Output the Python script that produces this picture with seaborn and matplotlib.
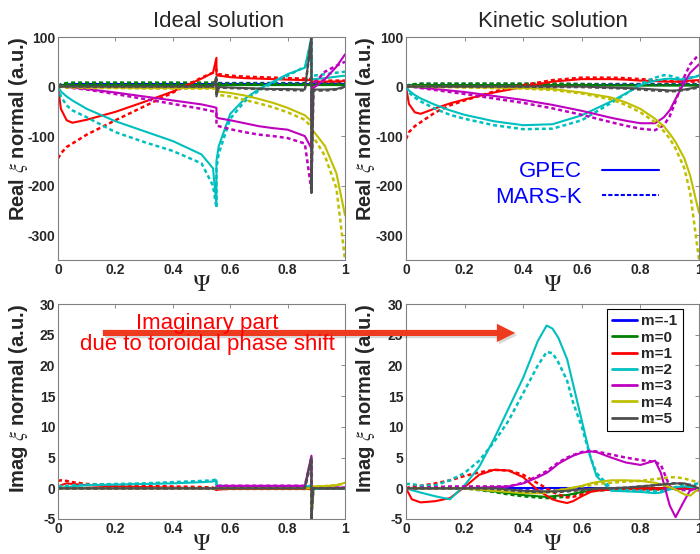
import seaborn as sns
import matplotlib.pyplot as plt
from matplotlib.lines import Line2D
from matplotlib.patches import FancyArrowPatch
from matplotlib.ticker import FormatStrFormatter

MODES = ["m=-1", "m=0", "m=1", "m=2", "m=3", "m=4", "m=5"]
COLORS = ["#0000FF", "#008000", "#FF0000", "#00BFBF", "#BF00BF", "#BFBF00", "#4D4D4D"]

# ---- Real part, ideal solution (jumps at the rational surfaces 0.552 / 0.883)
PSI_REAL_IDEAL = [0, .01, .03, .05, .1, .2, .3, .4, .5, .54, .552, .552, .56,
                  .6, .65, .7, .75, .8, .86, .883, .883, .89, .93, .97, 1.0]
REAL_IDEAL_GPEC = {
    "m=-1": [0, 3, 4, 5, 5, 5, 5, 5, 5, 5, 5, 5, 5, 5, 5, 5, 5, 5, 5, 5, 5, 5, 5, 5, 5],
    "m=0": [0, 2, 3, 3, 3, 3, 3, 3, 3, 3, 3, 3, 3, 3, 3, 3, 3, 3, 3, 3, 3, 3, 3, 3, 3],
    "m=1": [0, -45, -68, -73, -67, -51, -31, -10, 16, 28, 58, 24, 22, 19, 17, 16, 15, 14, 13, 13, 10, 10, 10, 10, 11],
    "m=2": [0, -10, -20, -28, -45, -70, -90, -110, -137, -165, -240, -150, -120, -55, -25, -5, 10, 25, 38, 100, 15, 15, 17, 20, 22],
    "m=3": [0, 0, -1, -2, -5, -12, -20, -28, -36, -41, -43, -62, -64, -68, -74, -80, -84, -87, -100, -125, -8, -3, 15, 40, 65],
    "m=4": [0, 0, -1, -1, -2, -2, -3, -3, -3, -3, -3, -8, -10, -13, -18, -25, -33, -43, -58, -70, -88, -90, -120, -175, -260],
    "m=5": [0, 0, 0, 0, 0, 0, 0, 0, 0, 0, 20, -20, -1, -2, -3, -4, -5, -5, -6, 100, -215, -6, -6, -5, 0],
}
REAL_IDEAL_MARS = {
    "m=-1": [0, 4, 5, 6, 6, 6, 6, 6, 6, 6, 6, 6, 7, 7, 7, 7, 7, 7, 7, 7, 7, 7, 7, 7, 7],
    "m=0": [0, 5, 7, 8, 8, 8, 8, 8, 8, 8, 8, 8, 6, 6, 6, 6, 6, 6, 6, 6, 6, 6, 6, 6, 6],
    "m=1": [-145, -135, -122, -115, -97, -68, -40, -12, 18, 28, 35, 28, 25, 22, 20, 19, 18, 17, 16, 15, 12, 12, 12, 12, 12],
    "m=2": [0, -20, -38, -48, -62, -92, -112, -130, -155, -200, -245, -165, -135, -65, -30, -8, 8, 22, 40, 60, 20, 22, 25, 28, 30],
    "m=3": [0, 0, -1, -3, -6, -15, -25, -35, -45, -50, -52, -78, -80, -86, -92, -97, -100, -104, -115, -210, -5, 5, 30, 42, 50],
    "m=4": [0, -1, -2, -2, -3, -3, -4, -4, -4, -4, -4, -15, -17, -20, -27, -34, -42, -52, -67, -82, -98, -102, -140, -205, -350],
    "m=5": [0, 0, 0, 0, 0, 0, 0, 0, 0, 0, 15, -15, -2, -3, -4, -5, -6, -7, -8, 100, -200, -8, -8, -6, -1],
}

# ---- Imaginary part, ideal solution (same grid)
IMAG_IDEAL_GPEC = {
    "m=-1": [0] * 25,
    "m=0": [0] * 25,
    "m=1": [0, .5, .8, .7, .5, .3, .2, .1, 0, 0, -.3, -.2, -.2, -.1, -.1, -.1, -.1, -.1, -.1, -.1, 0, 0, 0, 0, 0],
    "m=2": [0, .1, .2, .3, .5, .6, .7, .8, 1.0, 1.1, 1.3, .3, .3, .3, .3, .3, .3, .3, .2, .5, -.3, -.1, 0, 0, 0],
    "m=3": [0, 0, 0, 0, 0, 0, 0, 0, 0, 0, 0, .3, .4, .4, .4, .4, .4, .4, .4, 5.3, -.5, .1, .1, .1, .1],
    "m=4": [0, 0, 0, 0, 0, 0, 0, 0, 0, 0, 0, 0, 0, 0, 0, 0, 0, 0, 0, 0, -4.5, .3, .35, .5, .9],
    "m=5": [0, 0, 0, 0, 0, 0, 0, 0, 0, 0, 0, 0, 0, 0, 0, 0, 0, 0, 0, 5, -5, 0, 0, 0, 0],
}
IMAG_IDEAL_MARS = {
    "m=-1": [0] * 25,
    "m=0": [0] * 25,
    "m=1": [1.2, 1.3, 1.2, 1.0, .7, .5, .4, .3, .2, .1, -.2, -.1, -.1, -.1, -.1, -.1, -.1, -.1, -.1, -.1, 0, 0, 0, 0, 0],
    "m=2": [.3, .4, .4, .5, .6, .7, .8, 1.0, 1.2, 1.3, 1.5, .4, .4, .3, .3, .3, .3, .3, .2, .4, -.2, -.1, 0, 0, 0],
    "m=3": [0, 0, 0, 0, 0, 0, 0, 0, 0, 0, 0, .3, .4, .4, .4, .4, .4, .4, .4, 5.0, -.4, .1, .1, .1, .1],
    "m=4": [0, 0, 0, 0, 0, 0, 0, 0, 0, 0, 0, 0, 0, 0, 0, 0, 0, 0, 0, 0, -4.0, .3, .35, .5, .8],
    "m=5": [0, 0, 0, 0, 0, 0, 0, 0, 0, 0, 0, 0, 0, 0, 0, 0, 0, 0, 0, 4.5, -4.5, 0, 0, 0, 0],
}

# ---- Real part, kinetic solution
PSI_REAL_KIN = [0, .01, .03, .05, .1, .15, .2, .3, .4, .5, .6, .7, .75, .8, .85, .88, .9, .92, .95, .97, 1.0]
REAL_KIN_GPEC = {
    "m=-1": [0, 2, 3, 3, 3, 3, 3, 3, 3, 3, 3, 3, 3, 3, 3, 3, 3, 3, 3, 3, 3],
    "m=0": [0, 2, 3, 3, 3, 3, 3, 3, 3, 3, 3, 2, 2, 2, 2, 2, 2, 2, 2, 2, 2],
    "m=1": [0, -35, -52, -55, -44, -34, -26, -12, -1, 10, 15, 15, 14, 12, 11, 10, 10, 10, 11, 12, 13],
    "m=2": [0, -8, -17, -24, -37, -48, -57, -70, -78, -76, -58, -30, -14, 3, 12, 15, 16, 15, 14, 17, 22],
    "m=3": [0, 0, -1, -2, -5, -8, -11, -19, -27, -37, -49, -63, -69, -74, -74, -62, -48, -25, 8, 28, 45],
    "m=4": [0, 0, 0, 0, -1, -1, -1, -2, -3, -5, -12, -22, -32, -45, -65, -80, -95, -112, -145, -180, -255],
    "m=5": [0, 0, 0, 0, 0, 0, 0, 0, 0, 0, 0, -2, -3, -4, -6, -7, -8, -8, -6, -4, 0],
}
REAL_KIN_MARS = {
    "m=-1": [0, 3, 4, 5, 5, 5, 5, 5, 5, 5, 5, 5, 5, 5, 5, 5, 5, 5, 5, 5, 5],
    "m=0": [0, 3, 5, 6, 6, 6, 6, 6, 6, 6, 5, 4, 4, 4, 4, 4, 4, 4, 4, 4, 4],
    "m=1": [-106, -92, -80, -72, -52, -38, -28, -10, 3, 13, 18, 18, 17, 15, 13, 12, 11, 10, 10, 10, 10],
    "m=2": [0, -12, -22, -30, -45, -57, -65, -78, -86, -85, -68, -33, -15, 5, 18, 23, 22, 18, 16, 18, 22],
    "m=3": [0, 0, -1, -3, -7, -11, -15, -24, -33, -44, -57, -72, -79, -85, -88, -78, -60, -30, 20, 45, 65],
    "m=4": [0, 0, 0, 0, -1, -1, -2, -3, -4, -7, -14, -26, -37, -52, -72, -90, -105, -125, -165, -215, -350],
    "m=5": [0, 0, 0, 0, 0, 0, 0, 0, 0, -1, -1, -3, -4, -6, -8, -9, -10, -9, -7, -5, -2],
}

# ---- Imaginary part, kinetic solution
PSI_IMAG_KIN = [0, .02, .05, .1, .15, .2, .25, .3, .35, .4, .45, .48, .5, .52, .55, .57, .6, .63, .65,
                .7, .75, .8, .85, .87, .9, .92, .95, .97, 1.0]
IMAG_KIN_GPEC = {
    "m=-1": [0] * 29,
    "m=0": [0, 0, 0, 0, 0, 0, -.2, -.5, -.8, -1.1, -1.3, -1.4, -1.3, -1.2, -1.1, -.9, -.6, -.4, -.3, -.1, 0, 0, 0, 0, 0, 0, 0, 0, 0],
    "m=1": [0, -1.8, -2.3, -2.1, -1.6, .2, 2.2, 3.0, 2.9, 1.8, -.3, -1.2, -1.8, -2.1, -2.4, -2.1, -1.3, -.6, -.4, -.2, -.1, 0, 0, 0, 0, 0, 0, 0, 0],
    "m=2": [0, -.3, -.7, -1.3, -1.8, .5, 3.5, 8, 13, 18, 24, 26.5, 26, 24.5, 21, 17, 11, 5, 2, -.4, -.5, -.6, -.8, -.7, -.2, .2, .3, .2, 0],
    "m=3": [0, 0, 0, 0, 0, 0, .1, .2, .3, .8, 1.8, 2.5, 3.2, 4.0, 4.8, 5.3, 5.8, 6.0, 5.9, 5.0, 4.2, 3.8, 4.5, 2.5, -2.8, -4.7, -2, -.3, 0],
    "m=4": [0, 0, 0, 0, 0, 0, -.2, -.4, -.6, -.8, -.8, -.7, -.5, -.3, -.1, .1, .4, .8, 1.0, 1.3, 1.3, 1.2, .9, .6, .2, -.2, -1.0, -1.2, 0],
    "m=5": [0, 0, 0, 0, 0, 0, 0, 0, -.2, -.4, -.5, -.5, -.5, -.5, -.4, -.3, -.2, -.1, 0, 0, .1, .3, .5, .6, .7, .8, .8, .5, 0],
}
IMAG_KIN_MARS = {
    "m=-1": [0] * 29,
    "m=0": [0, 0, 0, 0, 0, 0, -.3, -.6, -1.0, -1.3, -1.5, -1.6, -1.6, -1.5, -1.3, -1.0, -.7, -.5, -.4, -.2, -.1, 0, 0, 0, 0, 0, 0, 0, 0],
    "m=1": [0, .3, .4, .8, 1.3, 2.0, 2.6, 3.0, 2.9, 2.2, .8, 0, -.6, -1.0, -1.5, -1.4, -1.0, -.5, -.3, -.2, -.1, -.2, -.2, -.2, 0, 0, 0, 0, 0],
    "m=2": [.7, .7, .4, .5, 1.3, 2.5, 4.5, 7.5, 11, 15.5, 20, 22.2, 22, 20.5, 17.5, 14, 10, 5, 2.5, 0, -.3, -.4, -.5, -.5, -.1, .2, .5, .6, .8],
    "m=3": [0, 0, .1, .2, .3, .3, .3, .3, .3, .9, 2.0, 2.8, 3.5, 4.2, 5.0, 5.4, 5.9, 6.1, 6.0, 5.5, 5.0, 4.6, 4.3, 3.8, .3, -.2, -.3, -.3, -.3],
    "m=4": [0, 0, 0, 0, 0, 0, -.2, -.4, -.5, -.6, -.6, -.6, -.5, -.3, -.1, .1, .3, .5, .7, .9, 1.1, 1.2, 1.5, 1.6, 1.8, 1.8, 1.6, 1.3, 1.0],
    "m=5": [0, 0, 0, 0, 0, 0, 0, -.1, -.3, -.5, -.6, -.6, -.6, -.6, -.5, -.4, -.3, -.2, -.1, 0, .1, .3, .5, .6, .8, .8, .7, .5, .2],
}

sns.set_style("white")
plt.rcParams["font.family"] = ["Liberation Sans", "DejaVu Sans"]
plt.rcParams["mathtext.fontset"] = "stix"
plt.rcParams["axes.unicode_minus"] = False

DASH = (0, (1.6, 1.2))


def draw_panel(ax, psi, gpec, mars, ylim, yticks, ylabel, label_y):
    for m, c in zip(MODES, COLORS):
        sns.lineplot(x=psi, y=gpec[m], ax=ax, color=c, lw=1.5,
                     estimator=None, sort=False, legend=False)
        sns.lineplot(x=psi, y=mars[m], ax=ax, color=c, lw=1.8, linestyle=DASH,
                     estimator=None, sort=False, legend=False)
    ax.set_xlim(0, 1)
    ax.set_ylim(*ylim)
    ax.set_xticks([0, 0.2, 0.4, 0.6, 0.8, 1.0])
    ax.set_yticks(yticks)
    ax.xaxis.set_major_formatter(FormatStrFormatter("%g"))
    ax.tick_params(direction="in", top=True, right=True, length=3, width=0.6,
                   color="#777777", pad=2, labelsize=10)
    for lbl in ax.get_xticklabels() + ax.get_yticklabels():
        lbl.set_fontweight("bold")
    for sp in ax.spines.values():
        sp.set_color("#808080")
        sp.set_linewidth(0.8)
    ax.set_xlabel(r"$\Psi$", fontsize=17, labelpad=-2)
    ax.set_ylabel(ylabel, fontsize=14.5, fontweight="bold")
    ax.yaxis.set_label_coords(-0.098, label_y)


fig = plt.figure(figsize=(7.0, 5.54), dpi=100)
ax_tl = fig.add_axes([0.0829, 0.5307, 0.41, 0.4025])
ax_tr = fig.add_axes([0.58, 0.5307, 0.4186, 0.4025])
ax_bl = fig.add_axes([0.0829, 0.0632, 0.41, 0.388])
ax_br = fig.add_axes([0.58, 0.0632, 0.4186, 0.388])

real_lab = r"Real $\xi$ normal (a.u.)"
imag_lab = r"Imag $\xi$ normal (a.u.)"
real_ticks = [-300, -200, -100, 0, 100]
imag_ticks = [-5, 0, 5, 10, 15, 20, 25, 30]

draw_panel(ax_tl, PSI_REAL_IDEAL, REAL_IDEAL_GPEC, REAL_IDEAL_MARS, (-350, 100), real_ticks, real_lab, 0.59)
draw_panel(ax_tr, PSI_REAL_KIN, REAL_KIN_GPEC, REAL_KIN_MARS, (-350, 100), real_ticks, real_lab, 0.59)
draw_panel(ax_bl, PSI_REAL_IDEAL, IMAG_IDEAL_GPEC, IMAG_IDEAL_MARS, (-5, 30), imag_ticks, imag_lab, 0.56)
draw_panel(ax_br, PSI_IMAG_KIN, IMAG_KIN_GPEC, IMAG_KIN_MARS, (-5, 30), imag_ticks, imag_lab, 0.56)

ax_tl.set_title("Ideal solution", fontsize=16, x=0.56, pad=7)
ax_tr.set_title("Kinetic solution", fontsize=16, pad=7)

# code key (solid = GPEC, dashed = MARS-K)
key = [Line2D([], [], color="blue", lw=1.5), Line2D([], [], color="blue", lw=1.5, linestyle=(0, (2, 1)))]
ax_tr.legend(key, ["GPEC", "MARS-K"], loc="center", bbox_to_anchor=(0.584, 0.338),
             frameon=False, markerfirst=False, labelcolor="blue", fontsize=16,
             handlelength=2.6, handletextpad=0.9, labelspacing=0.2)

# mode legend
mode_handles = [Line2D([], [], color=c, lw=2) for c in COLORS]
leg = ax_br.legend(mode_handles, MODES, loc="upper right", bbox_to_anchor=(0.945, 0.977),
                   borderaxespad=0, fancybox=False, edgecolor="black", framealpha=1,
                   prop={"weight": "bold", "size": 11}, handlelength=1.6,
                   handletextpad=0.3, labelspacing=0.15, borderpad=0.35)
leg.get_frame().set_linewidth(0.8)

# arrow + note about the imaginary part
shadow = FancyArrowPatch((0.146, 0.395), (0.743, 0.395), transform=fig.transFigure,
                         arrowstyle="simple,tail_width=0.2,head_width=0.6,head_length=0.6",
                         mutation_scale=22, color="#000000", alpha=0.15, lw=0)
fig.add_artist(shadow)
arrow = FancyArrowPatch((0.143, 0.399), (0.74, 0.399), transform=fig.transFigure,
                        arrowstyle="simple,tail_width=0.2,head_width=0.6,head_length=0.6",
                        mutation_scale=22, color="#EE3A1E", lw=0)
fig.add_artist(arrow)
fig.text(0.296, 0.397, "Imaginary part\ndue to toroidal phase shift", color="red",
         fontsize=16, ha="center", va="center", linespacing=1.05)

fig.savefig("out.png", dpi=100)
